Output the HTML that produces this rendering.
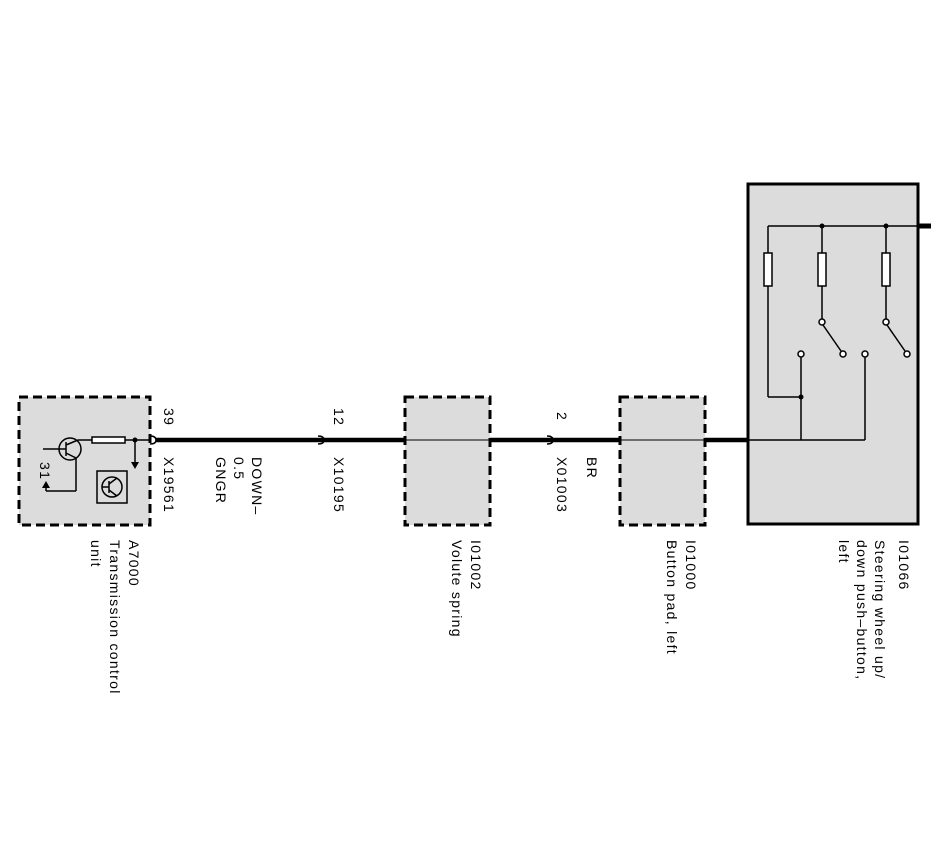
<!DOCTYPE html>
<html><head><style>
html,body{margin:0;padding:0;background:#fff;}
svg{display:block;}
text{font-family:"Liberation Sans",sans-serif;font-size:14px;letter-spacing:1.3px;fill:#000;}
</style></head><body>
<svg width="931" height="861" viewBox="0 0 931 861" xmlns="http://www.w3.org/2000/svg">
<rect x="19" y="397" width="131" height="128" fill="#dcdcdc" stroke="#000" stroke-width="3" stroke-dasharray="9,5"/>
<rect x="405" y="397" width="85" height="128" fill="#dcdcdc" stroke="#000" stroke-width="3" stroke-dasharray="9,5"/>
<rect x="620" y="397" width="85" height="128" fill="#dcdcdc" stroke="#000" stroke-width="3" stroke-dasharray="9,5"/>
<rect x="748" y="184" width="170" height="340" fill="#dcdcdc" stroke="#000" stroke-width="3"/>
<line x1="156" y1="440" x2="405" y2="440" stroke="#000" stroke-width="4.5"/>
<line x1="405" y1="440" x2="490" y2="440" stroke="#000" stroke-width="1"/>
<line x1="490" y1="440" x2="620" y2="440" stroke="#000" stroke-width="4.5"/>
<line x1="620" y1="440" x2="705" y2="440" stroke="#000" stroke-width="1"/>
<line x1="705" y1="440" x2="748" y2="440" stroke="#000" stroke-width="4.5"/>
<line x1="918" y1="226" x2="931" y2="226" stroke="#000" stroke-width="5"/>
<g fill="none" stroke="#000" stroke-width="1.5">
<path d="M150 436 q6 0 6 4 q0 4 -6 4"/>
<path d="M318 436 q6 0 6 4 q0 4 -6 4"/>
<path d="M547 436 q6 0 6 4 q0 4 -6 4"/>
</g>
<g stroke="#000" stroke-width="1.5" fill="none">
<circle cx="70" cy="449" r="11"/>
<line x1="43" y1="449" x2="66" y2="449"/>
<line x1="66" y1="442" x2="66" y2="456"/>
<line x1="66" y1="445" x2="78" y2="440"/>
<line x1="66" y1="453" x2="76" y2="458"/>
<line x1="78" y1="440" x2="92" y2="440"/>
<rect x="92" y="437" width="33" height="6" fill="#fff"/>
<line x1="125" y1="440" x2="150" y2="440"/>
<line x1="135" y1="440" x2="135" y2="462"/>
<line x1="76" y1="458" x2="76" y2="491"/>
<line x1="76" y1="491" x2="46" y2="491"/>
<line x1="46" y1="491" x2="46" y2="486"/>
<rect x="97" y="471" width="30" height="32"/>
<circle cx="112" cy="487" r="10"/>
<line x1="109" y1="481" x2="109" y2="493"/>
<line x1="102" y1="487" x2="109" y2="487"/>
<line x1="109" y1="484" x2="117" y2="478"/>
<line x1="109" y1="490" x2="117" y2="496"/>
</g>
<circle cx="135" cy="440" r="2.5" fill="#000"/>
<path d="M131 462 L139 462 L135 469 Z" fill="#000"/>
<path d="M42 488 L50 488 L46 481 Z" fill="#000"/>
<g stroke="#000" stroke-width="1.5" fill="none">
<line x1="768" y1="226" x2="918" y2="226"/>
<line x1="768" y1="226" x2="768" y2="253"/>
<rect x="764" y="253" width="8" height="33" fill="#fff"/>
<line x1="768" y1="286" x2="768" y2="397"/>
<line x1="768" y1="397" x2="801" y2="397"/>
<line x1="822" y1="226" x2="822" y2="253"/>
<rect x="818" y="253" width="8" height="33" fill="#fff"/>
<line x1="822" y1="286" x2="822" y2="320"/>
<line x1="886" y1="226" x2="886" y2="253"/>
<rect x="882" y="253" width="8" height="33" fill="#fff"/>
<line x1="886" y1="286" x2="886" y2="320"/>
<line x1="823" y1="325" x2="841" y2="351"/>
<line x1="887" y1="325" x2="905" y2="351"/>
<line x1="801" y1="357" x2="801" y2="440"/>
<line x1="865" y1="357" x2="865" y2="440"/>
<line x1="748" y1="440" x2="865" y2="440"/>
<circle cx="822" cy="322" r="3" fill="#fff"/>
<circle cx="886" cy="322" r="3" fill="#fff"/>
<circle cx="843" cy="354" r="3" fill="#fff"/>
<circle cx="907" cy="354" r="3" fill="#fff"/>
<circle cx="801" cy="354" r="3" fill="#fff"/>
<circle cx="865" cy="354" r="3" fill="#fff"/>
</g>
<circle cx="822" cy="226" r="2.5" fill="#000"/>
<circle cx="886" cy="226" r="2.5" fill="#000"/>
<circle cx="801" cy="397" r="2.5" fill="#000"/>
<g>
<text transform="translate(40,462) rotate(90)">31</text>
<text transform="translate(164,408) rotate(90)">39</text>
<text transform="translate(164,457) rotate(90)">X19561</text>
<text transform="translate(252,457) rotate(90)">DOWN–</text>
<text transform="translate(234,457) rotate(90)">0.5</text>
<text transform="translate(216,457) rotate(90)">GNGR</text>
<text transform="translate(334,408) rotate(90)">12</text>
<text transform="translate(334,457) rotate(90)">X10195</text>
<text transform="translate(557,412) rotate(90)">2</text>
<text transform="translate(587,457) rotate(90)">BR</text>
<text transform="translate(557,457) rotate(90)">X01003</text>
<text transform="translate(129,540) rotate(90)">A7000</text>
<text transform="translate(110,540) rotate(90)">Transmission control</text>
<text transform="translate(91,540) rotate(90)">unit</text>
<text transform="translate(471,540) rotate(90)">I01002</text>
<text transform="translate(452,540) rotate(90)">Volute spring</text>
<text transform="translate(686,540) rotate(90)">I01000</text>
<text transform="translate(667,540) rotate(90)">Button pad, left</text>
<text transform="translate(899,540) rotate(90)">I01066</text>
<text transform="translate(875,540) rotate(90)">Steering wheel up/</text>
<text transform="translate(857,540) rotate(90)">down push–button,</text>
<text transform="translate(839,540) rotate(90)">left</text>
</g>
</svg>
</body></html>
